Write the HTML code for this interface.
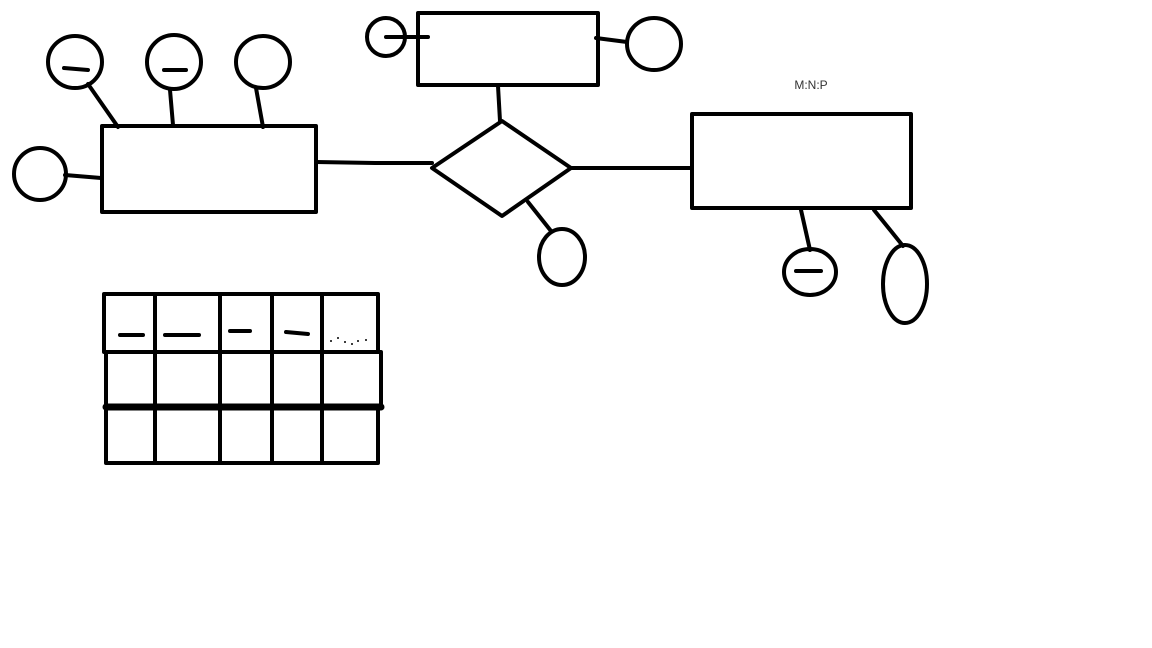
<!DOCTYPE html>
<html><head><meta charset="utf-8"><style>
html,body{margin:0;padding:0;background:#fff;}
svg{display:block;}
</style></head><body>
<svg width="1152" height="648" viewBox="0 0 1152 648" xmlns="http://www.w3.org/2000/svg">
<g fill="none" stroke="#000" stroke-width="4" stroke-linecap="round" stroke-linejoin="round">
  <g>
    <rect x="102" y="126" width="214" height="86"/>
  </g>
  <g>
    <ellipse cx="75" cy="62" rx="27" ry="26"/>
    <line x1="64" y1="68" x2="88" y2="70"/>
    <ellipse cx="174" cy="62" rx="27" ry="27"/>
    <line x1="164" y1="70" x2="186" y2="70"/>
    <ellipse cx="263" cy="62" rx="27" ry="26"/>
    <ellipse cx="40" cy="174" rx="26" ry="26"/>
    <line x1="88" y1="84" x2="118" y2="127"/>
    <line x1="170" y1="90" x2="173" y2="125"/>
    <line x1="256" y1="88" x2="263" y2="127"/>
    <line x1="65" y1="175" x2="101" y2="178"/>
  </g>
  <polyline points="316,162 375,163 432,163"/>
  <polygon points="432,168 502,121 571,168 502,216"/>
  <g>
    <rect x="418" y="13" width="180" height="72"/>
    <line x1="498" y1="86" x2="500" y2="121"/>
    <ellipse cx="386" cy="37" rx="19" ry="19"/>
    <line x1="386" y1="37" x2="428" y2="37"/>
    <ellipse cx="654" cy="44" rx="27" ry="26"/>
    <line x1="596" y1="38" x2="627" y2="42"/>
  </g>
  <line x1="571" y1="168" x2="692" y2="168"/>
  <g>
    <line x1="528" y1="202" x2="551" y2="231"/>
    <ellipse cx="562" cy="257" rx="23" ry="28"/>
  </g>
  <g>
    <rect x="692" y="114" width="219" height="94"/>
    <line x1="801" y1="210" x2="810" y2="250"/>
    <ellipse cx="810" cy="272" rx="26" ry="23"/>
    <line x1="796" y1="271" x2="821" y2="271"/>
    <line x1="874" y1="210" x2="903" y2="246"/>
    <ellipse cx="905" cy="284" rx="22" ry="39"/>
  </g>
  <g>
    <rect x="104" y="294" width="274" height="58"/>
    <rect x="106" y="352" width="275" height="55"/>
    <rect x="106" y="407" width="272" height="56"/>
    <line x1="155" y1="294" x2="155" y2="463"/>
    <line x1="220" y1="294" x2="220" y2="463"/>
    <line x1="272" y1="294" x2="272" y2="463"/>
    <line x1="322" y1="294" x2="322" y2="463"/>
    <line x1="106" y1="407" x2="381" y2="407" stroke-width="7"/>
    <line x1="120" y1="335" x2="143" y2="335"/>
    <line x1="165" y1="335" x2="199" y2="335"/>
    <line x1="230" y1="331" x2="250" y2="331"/>
    <line x1="286" y1="332" x2="308" y2="334"/>
  </g>
</g>
<g fill="#000">
  <circle cx="331" cy="341" r="1"/><circle cx="338" cy="338" r="1"/><circle cx="345" cy="342" r="1"/>
  <circle cx="352" cy="344" r="1"/><circle cx="358" cy="341" r="1"/><circle cx="366" cy="340" r="1"/>
</g>
<text x="811" y="89" text-anchor="middle" font-family="Liberation Sans, sans-serif" font-size="12" fill="#333">M:N:P</text>
</svg>
</body></html>
